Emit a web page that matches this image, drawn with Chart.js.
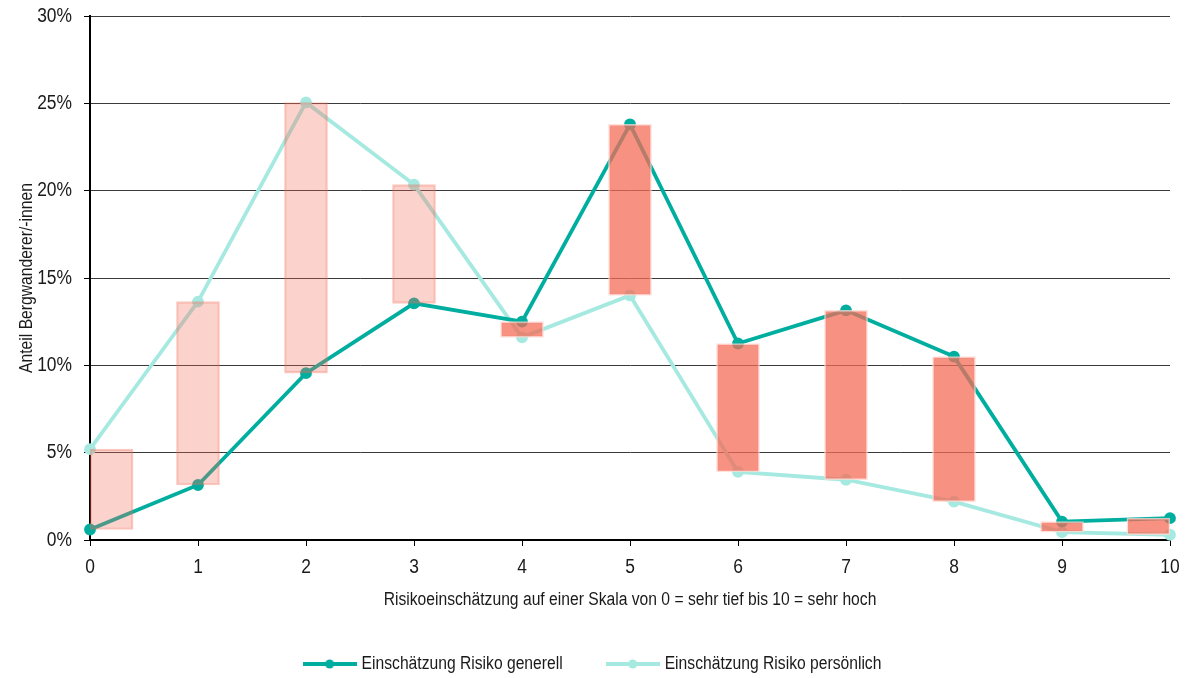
<!DOCTYPE html>
<html>
<head>
<meta charset="utf-8">
<script src="https://cdn.jsdelivr.net/npm/chart.js@4/dist/chart.umd.min.js"></script>
<style>
  html, body { margin: 0; padding: 0; background: #fff; }
  #wrap { width: 1191px; height: 678px; }
</style>
</head>
<body>
<div id="wrap"><canvas id="c"></canvas></div>
<script>
// Risikoeinschätzung 0..10, Anteil in %
const categories = [0, 1, 2, 3, 4, 5, 6, 7, 8, 9, 10];
const risikoGenerell = [0.6, 3.15, 9.55, 13.55, 12.5, 23.8, 11.25, 13.15, 10.5, 1.05, 1.25];
const risikoPersoenlich = [5.2, 13.65, 25.05, 20.35, 11.6, 14.0, 3.9, 3.45, 2.2, 0.45, 0.3];
const yTickValues = [0, 5, 10, 15, 20, 25, 30];

const FONT = "'Liberation Sans', Arial, sans-serif";
const TEXT_STRETCH = 0.87; // condensed look for all labels
const TEXT = '#1a1a1a';
const TEAL = '#00aea0';
const TEAL_LIGHT = '#a6e9e1';

const xMin = categories[0];
const xMax = categories[categories.length - 1];
const halfBar = 0.2; // half bar width in axis units

// Floating range bars between both assessments, kept inside the axis range
const rangeBars = categories.map((c, i) => ({
  x: Math.min(Math.max(c, xMin + halfBar), xMax - halfBar),
  y: [Math.min(risikoGenerell[i], risikoPersoenlich[i]), Math.max(risikoGenerell[i], risikoPersoenlich[i])]
}));
const persHigher = categories.map((c, i) => risikoPersoenlich[i] > risikoGenerell[i]);

// Legend swatch: short line with a dot in the middle
function legendSwatch(color) {
  const cv = document.createElement('canvas');
  cv.width = 54; cv.height = 10;
  const g = cv.getContext('2d');
  g.strokeStyle = color; g.lineWidth = 4;
  g.beginPath(); g.moveTo(0, 5); g.lineTo(54, 5); g.stroke();
  g.fillStyle = color;
  g.beginPath(); g.arc(27, 5, 4.5, 0, Math.PI * 2); g.fill();
  return cv;
}
const swatches = [null, legendSwatch(TEAL), legendSwatch(TEAL_LIGHT)];

// Horizontally condensed text: scale glyphs around the anchor point
const canvas = document.getElementById('c');
const ctx = canvas.getContext('2d');
const nativeFill = CanvasRenderingContext2D.prototype.fillText;
const nativeMeasure = CanvasRenderingContext2D.prototype.measureText;
ctx.fillText = function (text, x, y) {
  this.save();
  this.translate(x, y);
  this.scale(TEXT_STRETCH, 1);
  nativeFill.call(this, text, 0, 0);
  this.restore();
};
ctx.measureText = function (text) {
  const m = nativeMeasure.call(this, text);
  return {
    width: m.width * TEXT_STRETCH,
    actualBoundingBoxLeft: m.actualBoundingBoxLeft * TEXT_STRETCH,
    actualBoundingBoxRight: m.actualBoundingBoxRight * TEXT_STRETCH,
    actualBoundingBoxAscent: m.actualBoundingBoxAscent,
    actualBoundingBoxDescent: m.actualBoundingBoxDescent,
    fontBoundingBoxAscent: m.fontBoundingBoxAscent,
    fontBoundingBoxDescent: m.fontBoundingBoxDescent
  };
};

const LEFT_PAD = 18;

new Chart(ctx, {
  type: 'line',
  data: {
    datasets: [
      {
        type: 'bar',
        label: 'Differenz',
        data: rangeBars,
        backgroundColor: persHigher.map(p => p ? 'rgba(244,107,86,0.30)' : 'rgba(244,107,86,0.74)'),
        borderColor: persHigher.map(p => p ? 'rgba(240,110,90,0.38)' : 'rgba(255,215,208,0.75)'),
        borderWidth: 1.5,
        borderSkipped: false,
        barThickness: 43,
        order: 0
      },
      {
        label: 'Einschätzung Risiko generell',
        data: categories.map((c, i) => ({ x: c, y: risikoGenerell[i] })),
        borderColor: TEAL,
        backgroundColor: TEAL,
        borderWidth: 3.8,
        pointRadius: 4,
        pointHoverRadius: 4,
        tension: 0,
        clip: false,
        order: 1
      },
      {
        label: 'Einschätzung Risiko persönlich',
        data: categories.map((c, i) => ({ x: c, y: risikoPersoenlich[i] })),
        borderColor: TEAL_LIGHT,
        backgroundColor: TEAL_LIGHT,
        borderWidth: 3.8,
        pointRadius: 4,
        pointHoverRadius: 4,
        tension: 0,
        clip: false,
        order: 2
      }
    ]
  },
  options: {
    responsive: true,
    maintainAspectRatio: false,
    animation: false,
    devicePixelRatio: 1,
    layout: { padding: { top: 16, right: 21, left: LEFT_PAD, bottom: -5 } },
    plugins: {
      tooltip: { enabled: false },
      legend: {
        position: 'bottom',
        labels: {
          font: { family: FONT, size: 18 },
          color: TEXT,
          usePointStyle: true,
          pointStyleWidth: 46,
          boxHeight: 10,
          padding: 47,
          generateLabels(chart) {
            return Chart.defaults.plugins.legend.labels.generateLabels(chart)
              .filter(item => item.datasetIndex !== 0)
              .map(item => Object.assign(item, { pointStyle: swatches[item.datasetIndex] }));
          }
        }
      }
    },
    scales: {
      x: {
        type: 'linear',
        min: xMin,
        max: xMax,
        offset: false,
        afterFit(scale) { scale.height = 68; },
        ticks: { stepSize: 1, font: { family: FONT, size: 20 }, color: TEXT, padding: 9, maxRotation: 0 },
        grid: { display: true, drawOnChartArea: false, drawTicks: true, tickLength: 6, tickColor: '#000', offset: false },
        border: { color: '#000', width: 2 },
        title: {
          display: true,
          text: 'Risikoeinschätzung auf einer Skala von 0 = sehr tief bis 10 = sehr hoch',
          font: { family: FONT, size: 18 },
          color: TEXT,
          padding: { top: 0, bottom: -3 }
        }
      },
      y: {
        type: 'linear',
        min: yTickValues[0],
        max: yTickValues[yTickValues.length - 1],
        afterBuildTicks(scale) { scale.ticks = yTickValues.map(v => ({ value: v })); },
        afterFit(scale) { scale.width = 90 - LEFT_PAD; scale.paddingTop = 0; scale.paddingBottom = 0; },
        ticks: { font: { family: FONT, size: 20 }, color: TEXT, padding: 12, callback: v => v + '%' },
        grid: { color: '#3a3a3a', lineWidth: 1, tickColor: '#000', tickLength: 6 },
        border: { color: '#000', width: 2 },
        title: {
          display: true,
          text: 'Anteil Bergwanderer/-innen',
          font: { family: FONT, size: 18, lineHeight: 1 },
          color: TEXT,
          padding: { top: 0, bottom: 0 }
        }
      }
    }
  }
});
</script>
</body>
</html>
